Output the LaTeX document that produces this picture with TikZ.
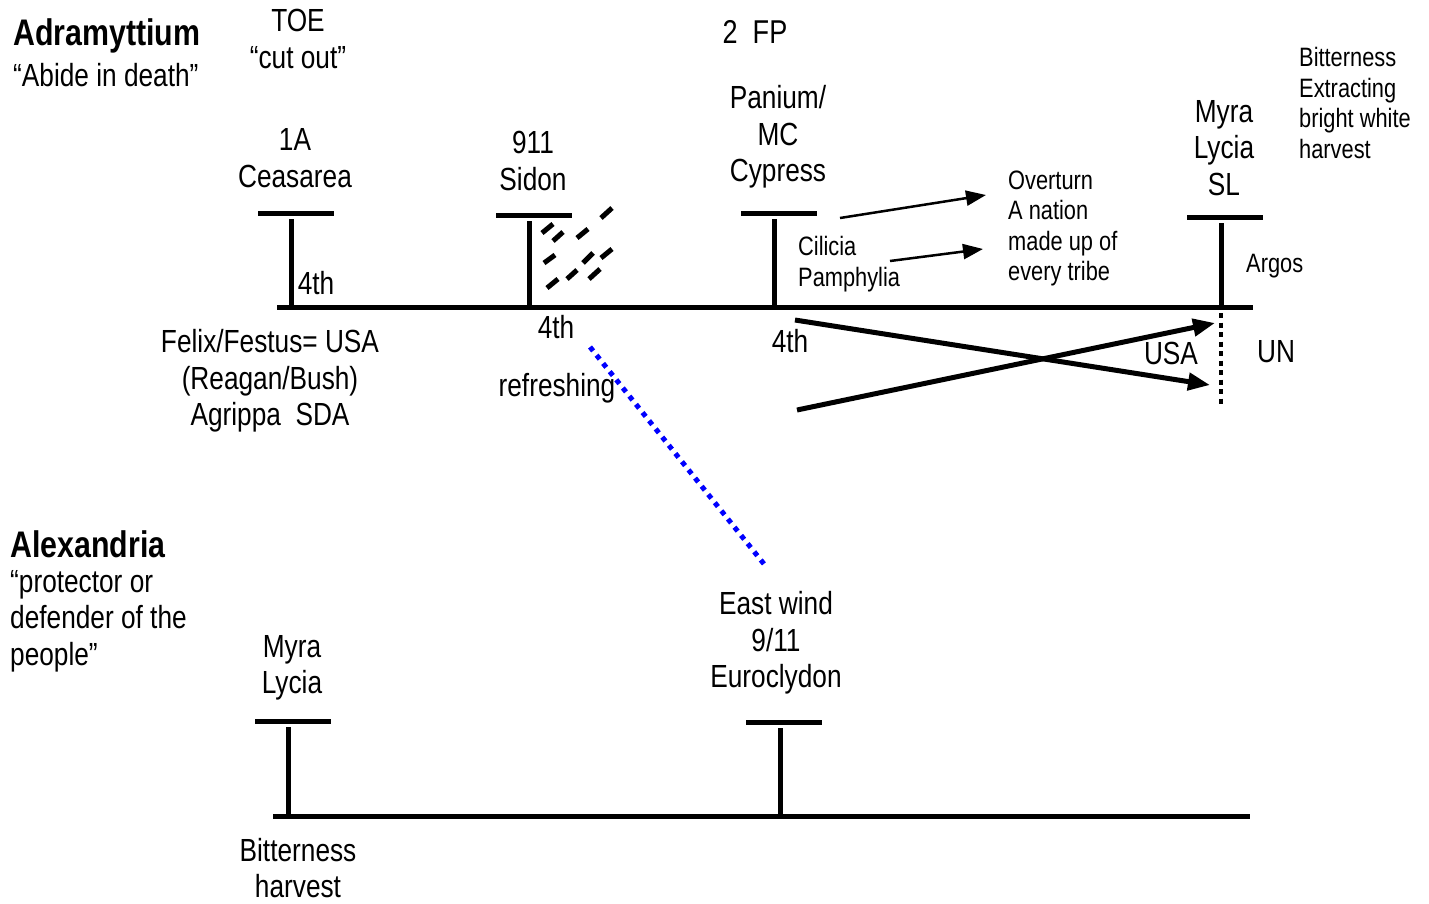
\documentclass[tikz,border=0pt]{standalone}
\usepackage{fontspec}
\setmainfont{Liberation Sans}[FakeStretch=0.82]
\usetikzlibrary{arrows.meta}
\begin{document}
\begin{tikzpicture}[x=1pt,y=-1pt,
  bar/.style={line width=5pt},
  txt/.style={font=\fontsize{32}{36.5}\selectfont, align=center, inner sep=0pt},
  sm/.style={font=\fontsize{26.6}{30.5}\selectfont, align=left, inner sep=0pt, anchor=west},
  ttl/.style={font=\bfseries\fontsize{37}{40}\selectfont, inner sep=0pt, anchor=west},
  sub/.style={font=\fontsize{32}{36.5}\selectfont, align=left, inner sep=0pt, anchor=west},
  thinarrow/.style={line width=2.5pt, -{Triangle[length=20pt,width=15pt]}},
  thickarrow/.style={line width=5pt, -{Triangle[length=22pt,width=17pt]}},
  dsh/.style={line width=5pt},
  blackdots/.style={line width=4pt, dash pattern=on 5pt off 4.5pt},
  bluedots/.style={draw=blue, line width=5pt, dash pattern=on 5pt off 5.5pt}
]
\useasboundingbox (0,0) rectangle (1429,903);

% ---------- titles ----------
\node[ttl] (adr) at (13,36) {Adramyttium};
\node[sub] (abide) at (13,75) {“Abide in death”};
\node[txt] (toe) at (298,39) {TOE\\“cut out”};
\node[txt, font=\fontsize{33}{36.5}\selectfont] (fp) at (755,32) {2\ \ FP};
\node[sm] (bitter1) at (1299,103) {Bitterness\\Extracting\\bright white\\harvest};

% ---------- top timeline ----------
\coordinate (tl) at (277,307);
\coordinate (tr) at (1253,307);
\draw[bar] (tl) -- (tr);

% post 1
\draw[bar] (258,213) -- (334,213);
\draw[bar] (291,219) -- (291,307);
\node[txt] (ces) at (295,158) {1A\\Ceasarea};
\node[txt] (p1) at (316,283) {4th};

% post 2
\draw[bar] (496,215) -- (572,215);
\draw[bar] (529,221) -- (529,307);
\node[txt] (sidon) at (533,161) {911\\Sidon};
\node[txt] (p2) at (556,327) {4th};
\node[txt] (refr) at (557,388) {refreshing};
\draw[dsh] (601,218) -- (612,208);
\draw[dsh] (542,233) -- (553,224);
\draw[dsh] (553,241) -- (563,232);
\draw[dsh] (577,238) -- (588,229);
\draw[dsh] (544,263) -- (555,255);
\draw[dsh] (583,263) -- (593,253);
\draw[dsh] (601,258) -- (612,249);
\draw[dsh] (547,288) -- (558,279);
\draw[dsh] (567,279) -- (577,270);
\draw[dsh] (589,279) -- (600,269);

% post 3
\draw[bar] (741,213) -- (817,213);
\draw[bar] (774,219) -- (774,307);
\node[txt] (cyp) at (778,137) {Panium/\\MC\\Cypress};
\node[txt] (p3) at (790,341) {4th};
\node[sm] (cil) at (798,264) {Cilicia\\Pamphylia};
\node[sm] (over) at (1008,228.5) {Overturn\\A nation\\made up of\\every tribe};

% post 4
\draw[bar] (1187,217) -- (1263,217);
\draw[bar] (1221,223) -- (1221,307);
\node[txt] (myra) at (1224,148) {Myra\\Lycia\\SL};
\node[sm] (argos) at (1246,266) {Argos};
\coordinate (dtop) at (1221,313);
\coordinate (dbot) at (1221,404);
\draw[blackdots] (dtop) -- (dbot);
\node[txt] (usa) at (1171,353) {USA};
\node[txt] (un) at (1276,352) {UN};

\node[txt] (felix) at (270,381) {Felix/Festus= USA\\(Reagan/Bush)\\Agrippa\ \ SDA};

% arrows
\coordinate (a1s) at (840,218); \coordinate (a1e) at (986,195);
\coordinate (a2s) at (890,261); \coordinate (a2e) at (983,249);
\draw[thinarrow] (a1s) -- (a1e);
\draw[thinarrow] (a2s) -- (a2e);
\coordinate (b1s) at (795,320); \coordinate (b1e) at (1210,385);
\coordinate (b2s) at (797,410); \coordinate (b2e) at (1215,323);
\draw[thickarrow] (b1s) -- (b1e);
\draw[thickarrow] (b2s) -- (b2e);

% blue dotted
\coordinate (bl1) at (590,347); \coordinate (bl2) at (764,564);
\draw[bluedots] (bl1) -- (bl2);

% ---------- bottom ----------
\node[ttl] (alex) at (10,544) {Alexandria};
\node[sub] (prot) at (10,621) {“protector or\\defender of the\\people”};

\coordinate (bl) at (273,816);
\coordinate (br) at (1250,816);
\draw[bar] (bl) -- (br);

\draw[bar] (255,721) -- (331,721);
\draw[bar] (288,727) -- (288,816);
\node[txt] (myra2) at (292,668) {Myra\\Lycia};
\node[txt] (bh) at (298,868) {Bitterness\\harvest};

\draw[bar] (746,722) -- (822,722);
\draw[bar] (780,728) -- (780,816);
\node[txt] (east) at (776,643) {East wind\\9/11\\Euroclydon};
\end{tikzpicture}
\end{document}
